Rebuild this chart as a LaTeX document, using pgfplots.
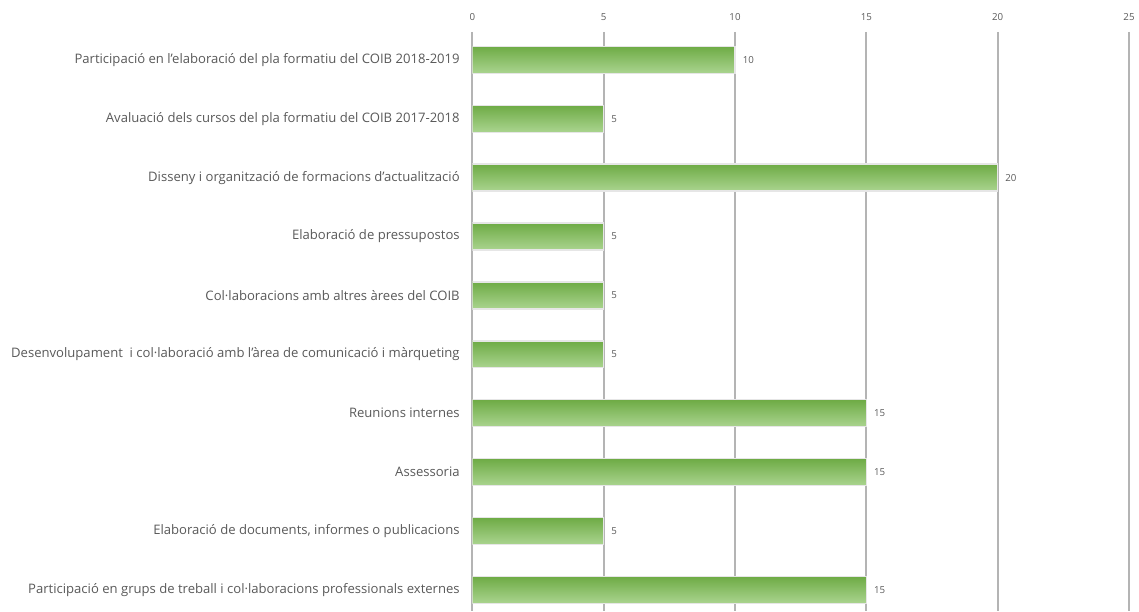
\documentclass[border=0pt]{standalone}
\usepackage{pgfplots}
\pgfplotsset{compat=1.18}
\usepackage{fontspec}
\setmainfont{Open Sans}
\definecolor{txt}{HTML}{595959}
\definecolor{gridc}{HTML}{B4B4B4}
\definecolor{gtop}{HTML}{6EAB45}
\definecolor{gbot}{HTML}{AAD48F}
\definecolor{barbd}{HTML}{E6E6E6}
\pgfplotsset{greenbar/.style={draw=barbd, line width=1pt, top color=gtop, bottom color=gbot}}
\begin{document}
\begin{tikzpicture}
\begin{axis}[
    scale only axis,
    width=494.25pt, height=435.75pt,
    xbar,
    y dir=reverse,
    xmin=0, xmax=25,
    ymin=-0.474, ymax=9.355,
    xtick={0,5,10,15,20,25},
    xtick pos=upper,
    xticklabel pos=upper,
    ytick={0,...,9},
    yticklabels={
      {Participació en l’elaboració del pla formatiu del COIB 2018-2019},
      {Avaluació dels cursos del pla formatiu del COIB 2017-2018},
      {Disseny i organització de formacions d’actualització},
      {Elaboració de pressupostos},
      {Col·laboracions amb altres àrees del COIB},
      {Desenvolupament\ \ i col·laboració amb l’àrea de comunicació i màrqueting\hspace{3pt}},
      {Reunions internes\hspace{3pt}},
      {Assessoria},
      {Elaboració de documents, informes o publicacions},
      {Participació en grups de treball i col·laboracions professionals externes}},
    major tick length=0pt,
    axis line style={draw=none},
    xmajorgrids,
    major grid style={gridc, line width=1.4pt},
    tick label style={text=txt},
    xticklabel style={font=\fontsize{7.3}{9}\selectfont, yshift=5pt},
    yticklabel style={font=\fontsize{9.85}{12}\selectfont, xshift=-6pt},
    /pgf/number format/assume math mode=true,
    bar width=0.457,
    every axis plot/.append style={bar shift=0pt},
    nodes near coords,
    nodes near coords style={font=\fontsize{7.3}{9}\selectfont, text=txt, anchor=west, xshift=2pt},
    clip=true,
]
\addplot[greenbar] coordinates {(10,0)};
\addplot[greenbar] coordinates {(5,1)};
\addplot[greenbar] coordinates {(20,2)};
\addplot[greenbar] coordinates {(5,3)};
\addplot[greenbar] coordinates {(5,4)};
\addplot[greenbar] coordinates {(5,5)};
\addplot[greenbar] coordinates {(15,6)};
\addplot[greenbar] coordinates {(15,7)};
\addplot[greenbar] coordinates {(5,8)};
\addplot[greenbar] coordinates {(15,9)};
\end{axis}
\path ([yshift=24pt]current axis.north) ([xshift=4.5pt]current axis.east)
      ([xshift=-355.5pt]current axis.west);
\end{tikzpicture}
\end{document}
